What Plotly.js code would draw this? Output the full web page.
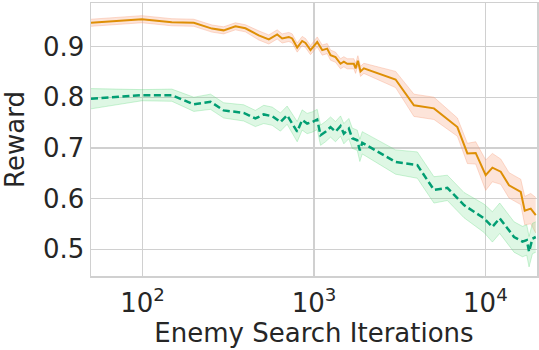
<!DOCTYPE html>
<html>
<head>
<meta charset="utf-8">
<script src="https://cdn.plot.ly/plotly-3.0.1.min.js"></script>
<style>
  html, body { margin: 0; padding: 0; background: #fff; }
  #chart { width: 539px; height: 350px; }
</style>
</head>
<body>
<div id="chart"></div>
<script>
// Reward vs. enemy search iterations, two runs with shaded spread
const orangeX = [50, 99, 148, 199, 254, 297, 348, 398, 476, 545, 610, 652, 713, 746, 798, 853, 892, 954,
    1044, 1117, 1194, 1249, 1335, 1428, 1493, 1563, 1708, 1748, 1803, 1869, 1954,
    2992, 3828, 5009, 6862, 7851, 8777, 10040, 10985, 12287, 13733, 16080, 16966, 18386, 19670];
const orangeMean = [0.947, 0.954, 0.948, 0.947, 0.9355, 0.932, 0.940, 0.936, 0.922, 0.914, 0.924, 0.916, 0.919, 0.916, 0.898, 0.911, 0.907, 0.893,
    0.909, 0.893, 0.896, 0.883, 0.879, 0.866, 0.870, 0.866, 0.866, 0.857, 0.872, 0.851, 0.857,
    0.835, 0.784, 0.778, 0.741, 0.689, 0.690, 0.646, 0.661, 0.653, 0.626, 0.613, 0.576, 0.580, 0.567];
const orangeSpread = [0.007, 0.007, 0.007, 0.007, 0.007, 0.007, 0.007, 0.007, 0.009, 0.009, 0.009, 0.009, 0.009, 0.009, 0.009, 0.009, 0.009, 0.009,
    0.010, 0.010, 0.010, 0.010, 0.010, 0.010, 0.010, 0.010, 0.010, 0.010, 0.010, 0.010, 0.010,
    0.016, 0.022, 0.022, 0.018, 0.020, 0.022, 0.030, 0.028, 0.025, 0.025, 0.025, 0.028, 0.030, 0.035];

const greenX = [50, 99, 148, 199, 249, 297, 389, 455, 509, 570, 637, 697, 798, 853, 912, 976,
    1044, 1092, 1167, 1249, 1335, 1428, 1493, 1597, 1671, 1788, 1851, 1912,
    2992, 4007, 5009, 5998, 7499, 9813, 10985, 12124, 14694, 16449, 17426, 17976, 18817, 19670];
const greenMean = [0.797, 0.804, 0.804, 0.786, 0.791, 0.774, 0.769, 0.758, 0.766, 0.7625, 0.751, 0.7645, 0.732, 0.755, 0.748, 0.751,
    0.756, 0.725, 0.732, 0.741, 0.732, 0.743, 0.728, 0.738, 0.719, 0.715, 0.695, 0.710,
    0.672, 0.666, 0.617, 0.621, 0.587, 0.561, 0.544, 0.561, 0.524, 0.515, 0.518, 0.495, 0.521, 0.524];
const greenSpread = [0.020, 0.011, 0.012, 0.014, 0.015, 0.015, 0.016, 0.016, 0.018, 0.018, 0.018, 0.018, 0.020, 0.020, 0.020, 0.020,
    0.020, 0.020, 0.020, 0.020, 0.020, 0.020, 0.020, 0.020, 0.020, 0.020, 0.022, 0.022,
    0.024, 0.026, 0.026, 0.025, 0.025, 0.028, 0.030, 0.030, 0.030, 0.030, 0.030, 0.030, 0.030, 0.030];

const xTickVals = [100, 1000, 10000];
const xTickText = ['10<sup>2</sup>', '10<sup>3</sup>', '10<sup>4</sup>'];
const yTickVals = [0.5, 0.6, 0.7, 0.8, 0.9];

function band(x, mean, spread, fillColor, edgeColor) {
    const upper = mean.map((m, i) => m + spread[i]);
    const lower = mean.map((m, i) => m - spread[i]);
    return [
        { x: x, y: upper, type: 'scatter', mode: 'lines', line: { color: edgeColor, width: 1 },
          hoverinfo: 'skip', showlegend: false },
        { x: x, y: lower, type: 'scatter', mode: 'lines', line: { color: edgeColor, width: 1 },
          fill: 'tonexty', fillcolor: fillColor, hoverinfo: 'skip', showlegend: false }
    ];
}

const data = [
    ...band(orangeX, orangeMean, orangeSpread, 'rgba(250,165,130,0.30)', 'rgba(245,155,120,0.35)'),
    ...band(greenX, greenMean, greenSpread, 'rgba(90,215,120,0.20)', 'rgba(90,215,120,0.30)'),
    { x: orangeX, y: orangeMean, type: 'scatter', mode: 'lines',
      line: { color: '#de8f05', width: 2 }, showlegend: false },
    { x: greenX, y: greenMean, type: 'scatter', mode: 'lines',
      line: { color: '#029e73', width: 2.5, dash: '7px,3.5px' }, showlegend: false }
];

const axisFont = { family: 'DejaVu Sans, sans-serif', size: 26, color: '#262626' };

const layout = {
    width: 539,
    height: 350,
    margin: { l: 91, r: 2, t: 3, b: 74 },
    paper_bgcolor: '#ffffff',
    plot_bgcolor: '#ffffff',
    showlegend: false,
    font: axisFont,
    xaxis: {
        type: 'log',
        range: [Math.log10(50), Math.log10(20000)],
        tickvals: xTickVals,
        ticktext: xTickText,
        tickfont: axisFont,
        showgrid: true,
        gridcolor: '#d0d0d0',
        gridwidth: 1.3,
        showline: true,
        linecolor: '#d0d0d0',
        linewidth: 1.5,
        mirror: true,
        zeroline: false,
        ticks: '',
        ticklabelstandoff: 3,
        title: { text: 'Enemy Search Iterations', font: axisFont, standoff: 4 }
    },
    yaxis: {
        range: [0.447, 0.986],
        tickvals: yTickVals,
        ticktext: yTickVals.map(v => v.toFixed(1)),
        tickfont: axisFont,
        showgrid: true,
        gridcolor: '#d0d0d0',
        gridwidth: 1.3,
        showline: true,
        linecolor: '#d0d0d0',
        linewidth: 1.5,
        mirror: true,
        zeroline: false,
        ticks: '',
        title: { text: 'Reward', font: axisFont, standoff: 14 }
    }
};

Plotly.newPlot('chart', data, layout, { displayModeBar: false, staticPlot: true });
</script>
</body>
</html>
